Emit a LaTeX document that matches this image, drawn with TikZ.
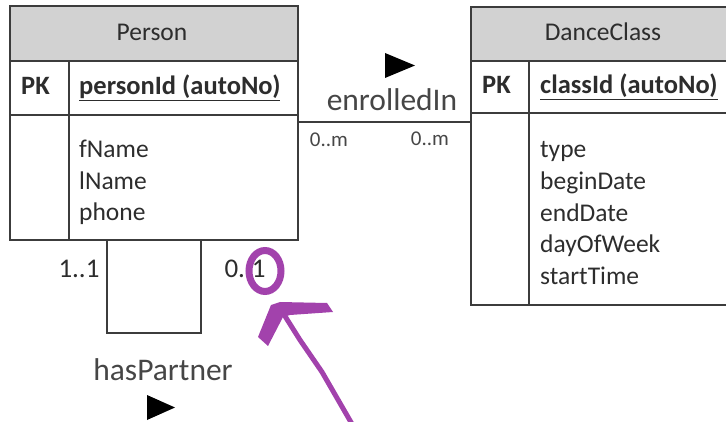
\documentclass[tikz,border=0pt]{standalone}
\usepackage{fontspec}
\setmainfont{Carlito}
\definecolor{hdr}{RGB}{210,210,210}
\definecolor{linec}{RGB}{60,60,60}
\definecolor{txt}{RGB}{45,45,45}
\definecolor{lbl}{RGB}{70,70,70}
\definecolor{annotpurple}{RGB}{162,66,172}
\begin{document}
\begin{tikzpicture}[x=1pt,y=-1pt,
  cellbox/.style={draw=linec, line width=1.6pt, inner sep=0pt, outer sep=0pt, anchor=north west},
  headbox/.style={cellbox, fill=hdr},
  attr/.style={font=\fontsize{25.5}{31}\selectfont, text=txt, inner sep=0pt, anchor=base west},
  keyattr/.style={attr, font=\fontsize{26.5}{31}\selectfont\bfseries},
  title/.style={font=\fontsize{25.5}{31}\selectfont, text=txt, inner sep=0pt, anchor=base},
  rel/.style={font=\fontsize{31.5}{36}\selectfont, text=lbl, inner sep=0pt, anchor=base},
  mult/.style={font=\fontsize{21}{24}\selectfont, text=lbl, inner sep=0pt, anchor=base},
  multb/.style={font=\fontsize{27}{30}\selectfont, text=txt, inner sep=0pt, anchor=base},
  conn/.style={draw=linec, line width=1.6pt}
]
\useasboundingbox (0,0) rectangle (726,422);

% Person entity
\node[headbox, minimum width=288pt, minimum height=55pt] (phead) at (10,6) {};
\node[cellbox, minimum width=288pt, minimum height=54pt] (prow) at (10,61) {};
\node[cellbox, minimum width=288pt, minimum height=125pt] (pbody) at (10,115) {};
\draw[conn] (69,61) coordinate (pdivtop) -- (69,240) coordinate (pdivbot);
\node[title] (ptitle) at (152,41) {Person};
\node[keyattr] (ppk) at (21,95) {PK};
\node[keyattr] (pid) at (79,95) {\underline{personId (autoNo)}};
\node[attr] (pa1) at (79,158) {fName};
\node[attr] (pa2) at (79,190) {lName};
\node[attr] (pa3) at (79,221) {phone};

% DanceClass entity
\node[headbox, minimum width=264pt, minimum height=54pt] (dhead) at (471,7) {};
\node[cellbox, minimum width=264pt, minimum height=52pt] (drow) at (471,61) {};
\node[cellbox, minimum width=264pt, minimum height=192pt] (dbody) at (471,113) {};
\draw[conn] (529,61) coordinate (ddivtop) -- (529,305) coordinate (ddivbot);
\node[title] (dtitle) at (603,41) {DanceClass};
\node[keyattr] (dpk) at (482,94) {PK};
\node[keyattr] (did) at (540,94) {\underline{classId (autoNo)}};
\node[attr] (da1) at (540,158) {type};
\node[attr] (da2) at (540,190) {beginDate};
\node[attr] (da3) at (540,222) {endDate};
\node[attr] (da4) at (540,253) {dayOfWeek};
\node[attr] (da5) at (540,285) {startTime};

% enrolledIn
\coordinate (eL) at (298,122);
\coordinate (eR) at (471,122);
\draw[conn] (eL) -- (eR);
\node[rel] (enr) at (392,111) {enrolledIn};
\fill (385,53) -- (415,65.5) -- (385,78) -- cycle;
\node[mult] (m1) at (329,147) {0..m};
\node[mult] (m2) at (430,146) {0..m};

% hasPartner self loop
\coordinate (hL) at (107,240);
\coordinate (hR) at (201,240);
\draw[conn] (hL) -- (107,333) -- (201,333) -- (hR);
\node[rel] (hp) at (163,380) {hasPartner};
\fill (147,395) -- (175,407.5) -- (147,420) -- cycle;
\node[multb] (c1) at (79,278) {1..1};
\node[multb] (c2) at (245,278) {0..1};

% purple annotation
\draw[annotpurple, line width=7pt] (265,271) ellipse [x radius=16pt, y radius=20.5pt];
\fill[annotpurple] (258,337) -- (271,305) -- (280,302) -- (327,303) -- (333,312) -- (290,315) -- (283,317) -- (268,346) -- cycle;
\draw[annotpurple, line width=5pt, line cap=round] (283,313) -- (300,340) -- (322,372) -- (352,424);
\end{tikzpicture}
\end{document}
